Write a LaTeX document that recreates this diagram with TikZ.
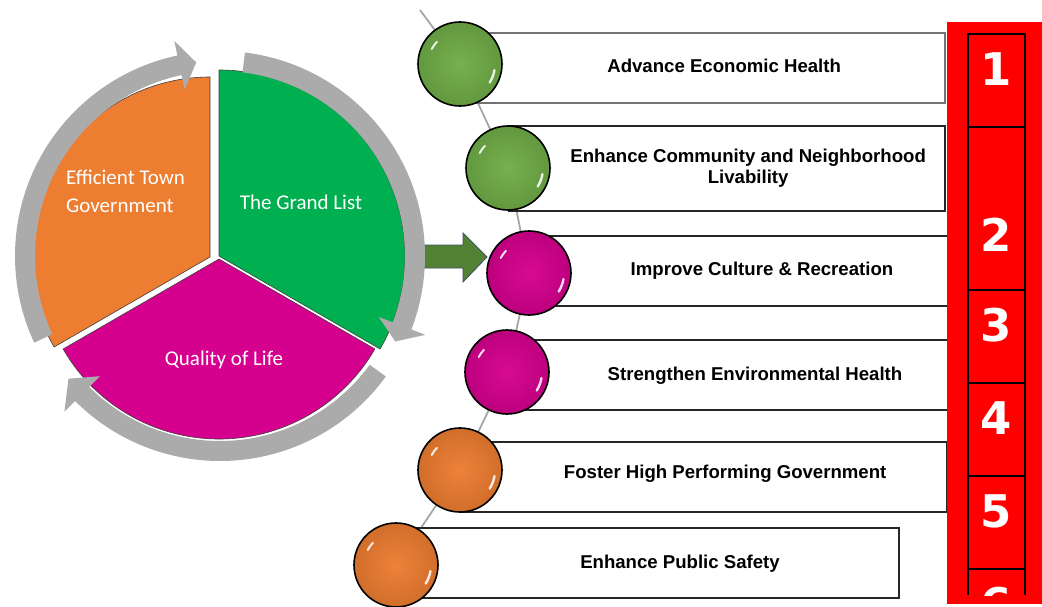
\documentclass[tikz,border=0pt]{standalone}
\usepackage{fontspec}
\setmainfont{Liberation Sans}
\newfontfamily\piefont{Carlito}
\newfontfamily\rowfont{DejaVu Sans}
\usetikzlibrary{calc}

\definecolor{pieorange}{HTML}{ED7D31}
\definecolor{piegreen}{HTML}{00B050}
\definecolor{piemagenta}{HTML}{D6008F}
\definecolor{ringgray}{HTML}{ABABAB}
\definecolor{ballgreen}{HTML}{70AD47}
\definecolor{arrowgreen}{HTML}{548235}
\definecolor{arrowedge}{HTML}{3A4F6A}
\definecolor{stripred}{HTML}{FF0000}

\tikzset{
  slice/.style={draw=black!75, line width=0.6pt},
  pielabel/.style={text=white, font=\piefont\fontsize{21}{27}\selectfont, inner sep=0pt},
  ball/.style={circle, draw=black, line width=1.6pt, minimum size=84pt, inner sep=0pt,
    shading=radial, inner color=#1!96!white, outer color=#1!88!black},
  goalbox/.style={rectangle, draw=black!85, line width=1.5pt, fill=white, anchor=west, inner sep=0pt, minimum height=70pt},
  goaltext/.style={font=\bfseries\fontsize{18.6}{21.5}\selectfont, align=center},
  spine/.style={draw=black!35, line width=1.8pt},
  rowline/.style={draw=black, line width=1.6pt},
  rownum/.style={text=white, font=\rowfont\bfseries\fontsize{45}{45}\selectfont, inner sep=0pt},
}

% ring arrow: tail angle, head base angle, tip angle
\newcommand{\ringarrow}[3]{%
  \fill[ringgray] (#1:205) arc[start angle=#1, end angle=#2, radius=205] -- (#2:220) -- (#3:195)
    -- (#2:170) -- (#2:185) arc[start angle=#2, end angle=#1, radius=185] -- cycle;}
% glossy streaks on a ball
\newcommand{\ballshine}[1]{%
  \draw[white, opacity=0.85, line width=2pt, line cap=round] ([shift={(152:32)}]#1.center) arc[start angle=152, end angle=136, radius=32];
  \draw[white, opacity=0.85, line width=2.4pt, line cap=round] ([shift={(-10:35)}]#1.center) arc[start angle=-10, end angle=-32, radius=35];}

\begin{document}
\begin{tikzpicture}[x=1pt,y=1pt]
  \useasboundingbox (0,0) rectangle (1042,-607);

  % pie
  \filldraw[slice, fill=pieorange] (210,-257) -- ++(90:180) arc[start angle=90, end angle=210, radius=180] -- cycle;
  \filldraw[slice, fill=piegreen] (219,-256) -- ++(-30:186) arc[start angle=-30, end angle=90, radius=186] -- cycle;
  \filldraw[slice, fill=piemagenta] (219,-259) -- ++(210:180) arc[start angle=210, end angle=330, radius=180] -- cycle;
  \node[pielabel, anchor=base west] (eff1) at (66,-185) {Efficient Town};
  \node[pielabel, anchor=base west] (eff2) at (66,-212) {Government};
  \node[pielabel, anchor=base] (grand) at (301,-210) {The Grand List};
  \node[pielabel, anchor=base] (life) at (224,-365) {Quality of Life};

  % block arrow to the goals
  \draw[fill=arrowgreen, draw=arrowedge, line width=0.8pt] (420,-245) -- (463,-245) -- (463,-233) -- (487,-257)
    -- (463,-282) -- (463,-268) -- (420,-268) -- cycle;

  % ring arrows
  \begin{scope}[shift={(220,-256)}]
    \ringarrow{205}{102}{97}
    \ringarrow{83}{-21}{-26}
    \ringarrow{-36}{-135}{-141}
  \end{scope}

  % goals
  \coordinate (top) at (420,-10);
  \coordinate (c1) at (460,-64);
  \coordinate (c2) at (508,-168);
  \coordinate (c3) at (529,-273);
  \coordinate (c4) at (507,-372);
  \coordinate (c5) at (460,-470);
  \coordinate (c6) at (396,-565);
  \draw[spine] (top) -- (c1) -- (c2) -- (c3) -- (c4) -- (c5) -- (c6);

  \node[goalbox, draw=black!55, minimum width=484pt] (g1) at (460,-68) {};
  \node[goalbox, minimum width=436pt, minimum height=85pt] (g2) at (508,-168.5) {};
  \node[goalbox, minimum width=440pt] (g3) at (529,-271) {};
  \node[goalbox, minimum width=460pt] (g4) at (507,-375) {};
  \node[goalbox, minimum width=486pt] (g5) at (460,-477) {};
  \node[goalbox, minimum width=502pt] (g6) at (396,-563) {};

  \node[ball=ballgreen] (b1) at (c1) {}; \ballshine{b1}
  \node[ball=ballgreen] (b2) at (c2) {}; \ballshine{b2}
  \node[ball=piemagenta] (b3) at (c3) {}; \ballshine{b3}
  \node[ball=piemagenta] (b4) at (c4) {}; \ballshine{b4}
  \node[ball=pieorange] (b5) at (c5) {}; \ballshine{b5}
  \node[ball=pieorange] (b6) at (c6) {}; \ballshine{b6}

  \node[goaltext] (t1) at ($(b1.east)!0.5!(g1.east)$) {Advance Economic Health};
  \node[goaltext] (t2) at ($(b2.east)!0.5!(g2.east)$) {Enhance Community and Neighborhood\\Livability};
  \node[goaltext] (t3) at (762,-271) {Improve Culture \& Recreation};
  \node[goaltext] (t4) at (755,-376) {Strengthen Environmental Health};
  \node[goaltext] (t5) at ($(b5.east)!0.5!(g5.east)$) {Foster High Performing Government};
  \node[goaltext] (t6) at (680,-564) {Enhance Public Safety};

  % numbered strip
  \fill[stripred] (947,-22) rectangle (1042,-604);
  \draw[rowline] (968,-595) -- (968,-34) -- (1025,-34) -- (1025,-595);
  \foreach \y in {127,290,383,476,569}
    \draw[rowline] (968,-\y) -- (1025,-\y);
  \begin{scope}
    \clip (947,-22) rectangle (1042,-595);
    \foreach \n/\y in {1/69,2/235,3/325,4/418,5/511,6/604}
      \node[rownum] (n\n) at (996.5,-\y) {\n};
  \end{scope}
\end{tikzpicture}
\end{document}
